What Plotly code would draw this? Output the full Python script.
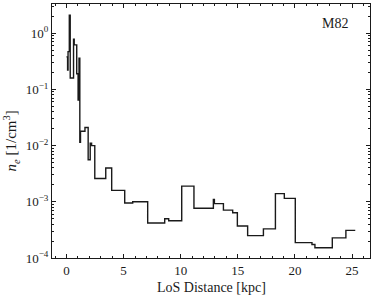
import plotly.graph_objects as go

# bin left edges [kpc] and electron densities [1/cm^3]
edges = [0.00, 0.10, 0.14, 0.25, 0.33, 0.62, 0.68, 0.90, 1.02, 1.10, 1.17, 1.23,
         1.62, 1.90, 2.08, 2.20, 2.48, 3.44, 3.96, 5.10, 5.80, 7.11, 8.60, 8.95,
         10.09, 11.16, 12.86, 12.95, 13.74, 14.55, 14.96, 15.86, 17.24, 18.29,
         19.07, 20.03, 21.49, 21.75, 23.27, 24.46]
ne = [0.38, 0.22, 0.47, 2.1, 0.16, 0.78, 0.62, 0.19, 0.065, 0.36, 0.0115, 0.018,
      0.021, 0.0056, 0.011, 0.0100, 0.0026, 0.0040, 0.0016, 0.00095, 0.0010,
      0.00042, 0.00050, 0.00046, 0.0019, 0.00077, 0.0011, 0.00093, 0.00071,
      0.00064, 0.00037, 0.00025, 0.00033, 0.0014, 0.00115, 0.000188, 0.000174,
      0.000152, 0.000228, 0.00031]
end_kpc = 25.28

xt_vals = [0, 5, 10, 15, 20, 25]
yt_vals = [1e-4, 1e-3, 1e-2, 1e-1, 1e0]
yt_text = ["10<sup>−4</sup>", "10<sup>−3</sup>", "10<sup>−2</sup>",
           "10<sup>−1</sup>", "10<sup>0</sup>"]
y_minor = [k * 10.0 ** e for e in range(-4, 1) for k in range(2, 10)]

xs = edges + [end_kpc]
ys = ne + [ne[-1]]

FONT = "Liberation Serif"
ink = "#1a1a1a"

fig = go.Figure()
fig.add_trace(go.Scatter(x=xs, y=ys, mode="lines", line_shape="hv",
                         line=dict(color=ink, width=1.4), showlegend=False,
                         hoverinfo="skip"))

axis_common = dict(showline=True, linecolor=ink, linewidth=1, mirror="ticks",
                   ticks="inside", tickcolor=ink, ticklen=4, tickwidth=0.8,
                   showgrid=False, zeroline=False, automargin=False,
                   tickfont=dict(family=FONT, size=13, color=ink))

fig.update_xaxes(range=[-1.265, 26.57], tickvals=xt_vals,
                 minor=dict(dtick=1, ticks="inside", ticklen=2, tickcolor=ink,
                            showgrid=False),
                 **axis_common)
fig.update_yaxes(type="log", range=[-4, 0.52], tickvals=yt_vals, ticktext=yt_text,
                 minor=dict(tickvals=y_minor, ticks="inside", ticklen=2,
                            tickcolor=ink, showgrid=False),
                 **axis_common)

fig.add_annotation(text="LoS Distance [kpc]", xref="paper", yref="paper",
                   x=0.5, y=-0.08, xanchor="center", yanchor="top",
                   showarrow=False, font=dict(family=FONT, size=14, color=ink))
fig.add_annotation(text="<i>n</i><sub><i>e</i></sub> [1/cm<sup>3</sup>]",
                   xref="paper", yref="paper", x=-0.128, y=0.46,
                   xanchor="center", yanchor="middle", textangle=-90,
                   showarrow=False, font=dict(family=FONT, size=15, color=ink))
fig.add_annotation(text="M82", xref="paper", yref="paper", x=0.938, y=0.925,
                   xanchor="right", yanchor="middle", showarrow=False,
                   font=dict(family=FONT, size=14, color=ink))

fig.update_layout(width=374, height=298, margin=dict(l=52, r=4, t=4, b=40),
                  paper_bgcolor="white", plot_bgcolor="white",
                  font=dict(family=FONT, color=ink), hovermode=False)

fig.write_html("out.html", config={"displayModeBar": False},
               post_script="document.body.style.margin='0';"
                           "document.body.style.overflow='hidden';")
